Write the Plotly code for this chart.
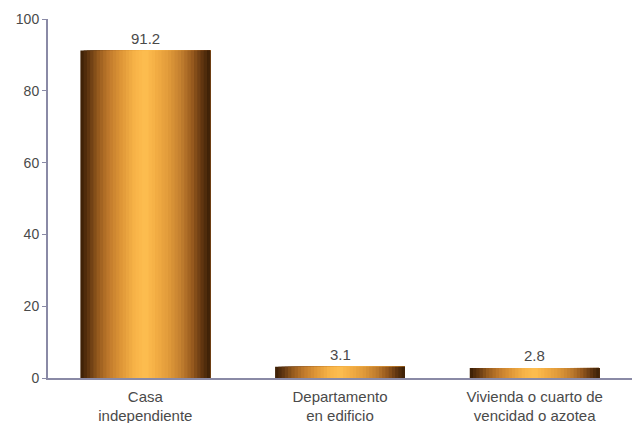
import plotly.graph_objects as go

# Housing type distribution (%)
categories = ["Casa<br>independiente", "Departamento<br>en edificio", "Vivienda o cuarto de<br>vencidad o azotea"]
values = [91.2, 3.1, 2.8]
y_ticks = [0, 20, 40, 60, 80, 100]

FONT = "Liberation Sans, Arial, sans-serif"
AXIS_COLOR = "#8a8aa6"
TEXT_COLOR = "#4a4a4a"

# Horizontal colour stops giving the bars a cylindrical, metallic look
stops = [
    (0.00, (0x38, 0x1d, 0x05)),
    (0.06, (0x5e, 0x35, 0x10)),
    (0.14, (0x98, 0x5c, 0x1e)),
    (0.22, (0xc0, 0x7a, 0x2c)),
    (0.32, (0xe0, 0x98, 0x38)),
    (0.42, (0xf8, 0xb4, 0x48)),
    (0.50, (0xfd, 0xbe, 0x50)),
    (0.58, (0xf4, 0xae, 0x44)),
    (0.68, (0xe0, 0x9a, 0x3a)),
    (0.78, (0xc0, 0x7d, 0x2e)),
    (0.86, (0x98, 0x5a, 0x1e)),
    (0.94, (0x5e, 0x34, 0x10)),
    (1.00, (0x3a, 0x1e, 0x06)),
]


def shade(t):
    for (t0, c0), (t1, c1) in zip(stops, stops[1:]):
        if t0 <= t <= t1:
            f = (t - t0) / (t1 - t0) if t1 > t0 else 0
            r, g, b = (round(a + (b_ - a) * f) for a, b_ in zip(c0, c1))
            return f"rgb({r},{g},{b})"
    return "rgb(58,30,6)"


BAR_WIDTH = 0.667
N_STRIPS = 40
strip_w = BAR_WIDTH / N_STRIPS

fig = go.Figure()
x_idx = list(range(len(categories)))
# Each strip runs from its own start to the bar's right edge; later strips
# paint over earlier ones, so no seams show between the colour bands.
for i in range(N_STRIPS):
    t = (i + 0.5) / N_STRIPS
    fig.add_trace(go.Bar(
        x=x_idx,
        y=values,
        width=BAR_WIDTH - i * strip_w,
        offset=-BAR_WIDTH / 2 + i * strip_w,
        marker=dict(color=shade(t), line=dict(width=0)),
        hoverinfo="skip",
        showlegend=False,
    ))

# Value labels above each bar
for xi, v in zip(x_idx, values):
    fig.add_annotation(
        x=xi, y=v, text=f"{v}", showarrow=False, yanchor="bottom", yshift=2,
        font=dict(family=FONT, size=15, color=TEXT_COLOR),
    )

fig.update_layout(
    barmode="overlay",
    width=632, height=423,
    margin=dict(l=48, r=0, t=19, b=45),
    paper_bgcolor="white",
    plot_bgcolor="white",
    font=dict(family=FONT, size=14, color=TEXT_COLOR),
    xaxis=dict(
        range=[-0.5, 2.5],
        tickmode="array", tickvals=x_idx, ticktext=categories,
        showline=True, linecolor=AXIS_COLOR, linewidth=1.5,
        ticks="", showgrid=False, zeroline=False, fixedrange=True,
        ticklabelstandoff=4,
        tickfont=dict(family=FONT, size=15, color=TEXT_COLOR),
    ),
    yaxis=dict(
        range=[0, 100],
        tickmode="array", tickvals=y_ticks,
        showline=True, linecolor=AXIS_COLOR, linewidth=2,
        ticks="outside", ticklen=4, tickcolor=AXIS_COLOR, tickwidth=1,
        showgrid=False, zeroline=False, fixedrange=True,
        tickfont=dict(family=FONT, size=14, color=TEXT_COLOR),
    ),
)

fig.write_html("out.html")
